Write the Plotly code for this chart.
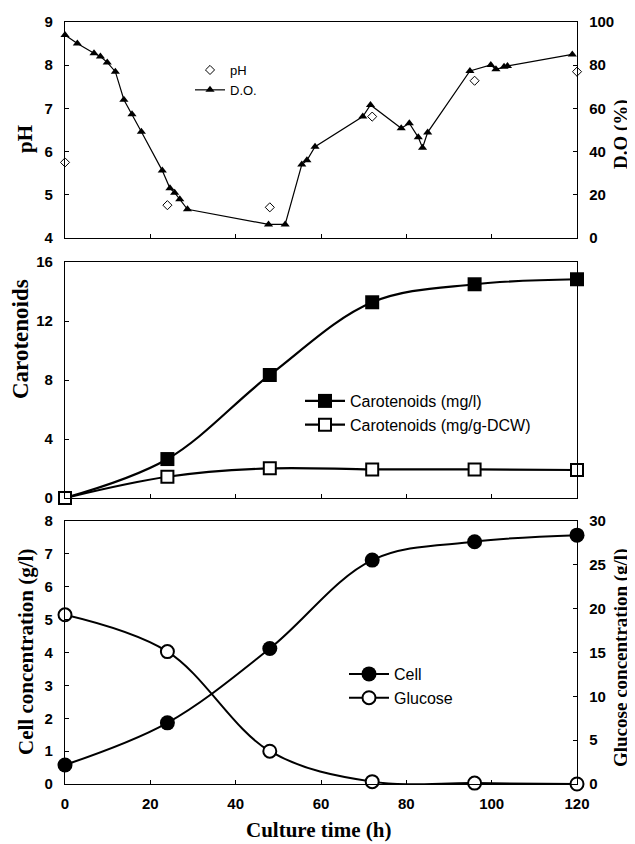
import plotly.graph_objects as go

# page body has an 8px margin; size the figure so it fills the 635x844 window
W, H = 635, 844
OFF = 8
FW, FH = W - OFF, H - OFF

# ---------------- data ----------------
# Top panel: dissolved oxygen (%) and pH
do_time = [0, 2.9, 6.8, 8.3, 9.9, 11.8, 13.8, 15.7, 17.9, 22.8, 24.6, 25.7, 26.9, 28.7,
           47.7, 51.6, 55.5, 56.7, 58.6, 69.8, 71.6, 78.8, 80.7, 82.8, 83.8, 85.0,
           94.9, 99.8, 101.0, 102.9, 103.7, 118.9]
do_values = [94, 90, 85.5, 84, 81.3, 77, 64, 57.3, 49.2, 31.2, 23, 21, 17.9, 13.3,
             6.3, 6.3, 34, 36, 42.3, 56.2, 61.6, 50.8, 53.1, 46.6, 41.8, 48.9,
             77.3, 80.1, 78.1, 79.3, 79.6, 85]
ph_time = [0, 24, 48, 72, 96, 120]
ph_values = [5.75, 4.76, 4.71, 6.81, 7.64, 7.85]

# Middle panel: carotenoids
time_h = [0, 24, 48, 72, 96, 120]
carot_mg_l = [0, 2.64, 8.34, 13.27, 14.49, 14.83]
carot_mg_g = [0, 1.44, 2.01, 1.94, 1.94, 1.90]

# Bottom panel: cell and glucose
cell_g_l = [0.58, 1.86, 4.12, 6.81, 7.37, 7.57]
glucose_g_l = [19.3, 15.1, 3.74, 0.27, 0.10, 0.0]

x_ticks = [0, 20, 40, 60, 80, 100, 120]
ph_ticks = [4, 5, 6, 7, 8, 9]
do_ticks = [0, 20, 40, 60, 80, 100]
carot_ticks = [0, 4, 8, 12, 16]
cell_ticks = [0, 1, 2, 3, 4, 5, 6, 7, 8]
glu_ticks = [0, 5, 10, 15, 20, 25, 30]

# ---------------- helpers (page pixels -> paper fractions) ----------------
def px_x(px):
    return (px - OFF) / FW

def px_y(py):
    return 1 - (py - OFF) / FH

xdom = [px_x(65), px_x(577)]
top_dom = [px_y(238), px_y(22)]
mid_dom = [px_y(498), px_y(262)]
bot_dom = [px_y(784), px_y(521)]

tickfont = dict(family="Liberation Sans, Arial", size=15, color="black", weight="bold")
titlefont = dict(family="Liberation Serif, Times New Roman", size=21, color="black", weight="bold")

fig = go.Figure()

# top panel
fig.add_trace(go.Scatter(x=ph_time, y=ph_values, mode="markers", name="pH",
                         marker=dict(symbol="diamond-open", size=7, color="black", line=dict(width=1)),
                         xaxis="x", yaxis="y", legend="legend", cliponaxis=False))
fig.add_trace(go.Scatter(x=do_time, y=do_values, mode="lines+markers", name="D.O.",
                         line=dict(color="black", width=1.2),
                         marker=dict(symbol="triangle-up", size=8, color="black"),
                         xaxis="x", yaxis="y2", legend="legend", cliponaxis=False))

# middle panel
fig.add_trace(go.Scatter(x=time_h, y=carot_mg_l, mode="lines+markers", name="Carotenoids (mg/l)",
                         line=dict(color="black", width=2.2, shape="spline"),
                         marker=dict(symbol="square", size=14, color="black"),
                         xaxis="x2", yaxis="y3", legend="legend2", cliponaxis=False))
fig.add_trace(go.Scatter(x=time_h, y=carot_mg_g, mode="lines+markers", name="Carotenoids (mg/g-DCW)",
                         line=dict(color="black", width=2.2, shape="spline"),
                         marker=dict(symbol="square", size=12, color="white", line=dict(color="black", width=2)),
                         xaxis="x2", yaxis="y3", legend="legend2", cliponaxis=False))

# bottom panel
fig.add_trace(go.Scatter(x=time_h, y=cell_g_l, mode="lines+markers", name="Cell",
                         line=dict(color="black", width=2, shape="spline"),
                         marker=dict(symbol="circle", size=15, color="black"),
                         xaxis="x3", yaxis="y4", legend="legend3", cliponaxis=False))
fig.add_trace(go.Scatter(x=time_h, y=glucose_g_l, mode="lines+markers", name="Glucose",
                         line=dict(color="black", width=2, shape="spline"),
                         marker=dict(symbol="circle", size=13, color="white", line=dict(color="black", width=2)),
                         xaxis="x3", yaxis="y5", legend="legend3", cliponaxis=False))

common_x = dict(range=[0, 120], tickvals=x_ticks, ticks="inside", ticklen=4, tickcolor="black",
                showline=True, linecolor="black", linewidth=1.3, mirror=True, showgrid=False,
                zeroline=False, domain=xdom, tickfont=tickfont, automargin=False)
common_y = dict(ticks="inside", ticklen=4, tickcolor="black", showline=True, linecolor="black",
                linewidth=1.3, showgrid=False, zeroline=False, tickfont=tickfont, ticklabelstandoff=8,
                automargin=False)

fig.update_layout(
    template="none",
    width=FW, height=FH,
    margin=dict(l=0, r=0, t=0, b=0, pad=0),
    paper_bgcolor="white", plot_bgcolor="white",
    xaxis=dict(common_x, anchor="y", showticklabels=False),
    yaxis=dict(common_y, domain=top_dom, anchor="x", range=[4, 9], tickvals=ph_ticks),
    yaxis2=dict(common_y, overlaying="y", side="right", anchor="x", range=[0, 100], tickvals=do_ticks),
    xaxis2=dict(common_x, anchor="y3", showticklabels=False),
    yaxis3=dict(common_y, domain=mid_dom, anchor="x2", range=[0, 16], tickvals=carot_ticks, mirror=True),
    xaxis3=dict(common_x, anchor="y4", ticklabelstandoff=6),
    yaxis4=dict(common_y, domain=bot_dom, anchor="x3", range=[0, 8], tickvals=cell_ticks),
    yaxis5=dict(common_y, overlaying="y4", side="right", anchor="x3", range=[0, 30], tickvals=glu_ticks),
    legend=dict(x=px_x(190), y=px_y(55), xanchor="left", yanchor="top", bgcolor="rgba(0,0,0,0)",
                font=dict(family="Liberation Sans, Arial", size=13, color="black")),
    legend2=dict(x=px_x(300), y=px_y(384), xanchor="left", yanchor="top", bgcolor="rgba(0,0,0,0)",
                 itemwidth=40,
                 font=dict(family="Liberation Sans, Arial", size=16, color="black")),
    legend3=dict(x=px_x(344), y=px_y(657), xanchor="left", yanchor="top", bgcolor="rgba(0,0,0,0)",
                 itemwidth=40,
                 font=dict(family="Liberation Sans, Arial", size=16, color="black")),
    showlegend=True,
)

annotations = [
    dict(text="pH", x=px_x(25), y=px_y(139), textangle=-90),
    dict(text="D.O (%)", x=px_x(621), y=px_y(134), textangle=-90, font=dict(titlefont, size=19)),
    dict(text="Carotenoids", x=px_x(21), y=px_y(339), textangle=-90, font=dict(titlefont, size=23)),
    dict(text="Cell concentration (g/l)", x=px_x(26), y=px_y(652), textangle=-90),
    dict(text="Glucose concentration (g/l)", x=px_x(621), y=px_y(658), textangle=-90,
         font=dict(titlefont, size=19)),
    dict(text="Culture time (h)", x=px_x(318), y=px_y(830)),
]
for a in annotations:
    a.setdefault("font", titlefont)
    fig.add_annotation(xref="paper", yref="paper", showarrow=False, xanchor="center", yanchor="middle", **a)

fig.write_html("out.html")
